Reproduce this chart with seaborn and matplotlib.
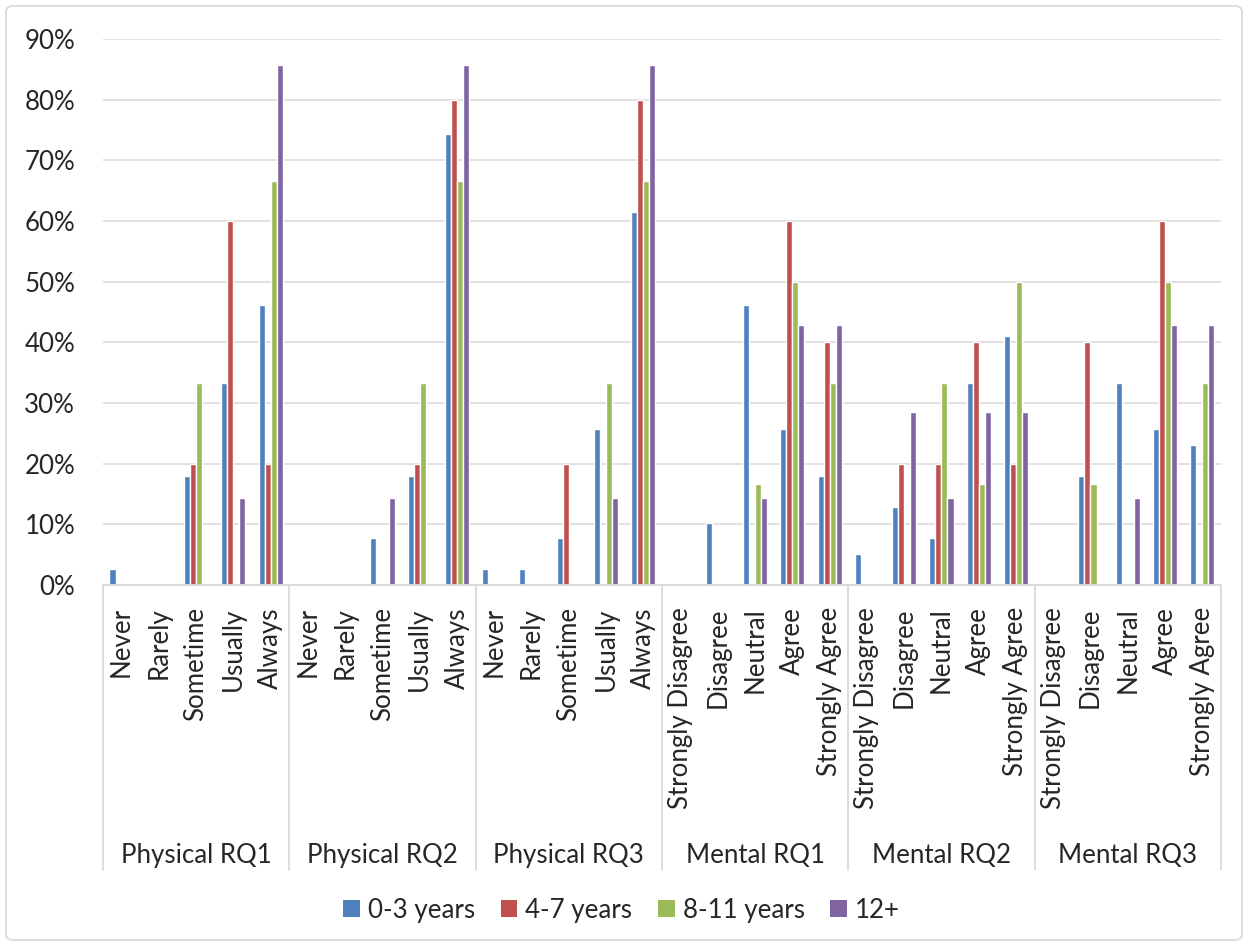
import matplotlib
matplotlib.use("Agg")
import matplotlib.pyplot as plt
import pandas as pd
import seaborn as sns
from matplotlib.patches import FancyBboxPatch, Patch
from matplotlib.ticker import MultipleLocator, PercentFormatter

# ── data (percent of respondents) ─────────────────────────
GROUPS = ["Physical RQ1", "Physical RQ2", "Physical RQ3",
          "Mental RQ1", "Mental RQ2", "Mental RQ3"]
FREQ = ["Never", "Rarely", "Sometime", "Usually", "Always"]
AGREE = ["Strongly Disagree", "Disagree", "Neutral", "Agree", "Strongly Agree"]
SUBCATS = FREQ * 3 + AGREE * 3

SERIES = ["0-3 years", "4-7 years", "8-11 years", "12+"]
COLORS = ["#4F81BD", "#C0504D", "#9BBB59", "#8064A2"]

YEARS_0_3 = [2.56, 0, 17.95, 33.33, 46.15,
             0, 0, 7.69, 17.95, 74.36,
             2.56, 2.56, 7.69, 25.64, 61.54,
             0, 10.26, 46.15, 25.64, 17.95,
             5.13, 12.82, 7.69, 33.33, 41.03,
             0, 17.95, 33.33, 25.64, 23.08]
YEARS_4_7 = [0, 0, 20, 60, 20,
             0, 0, 0, 20, 80,
             0, 0, 20, 0, 80,
             0, 0, 0, 60, 40,
             0, 20, 20, 40, 20,
             0, 40, 0, 60, 0]
YEARS_8_11 = [0, 0, 33.33, 0, 66.67,
              0, 0, 0, 33.33, 66.67,
              0, 0, 0, 33.33, 66.67,
              0, 0, 16.67, 50, 33.33,
              0, 0, 33.33, 16.67, 50,
              0, 16.67, 0, 50, 33.33]
YEARS_12_PLUS = [0, 0, 0, 14.29, 85.71,
                 0, 0, 14.29, 0, 85.71,
                 0, 0, 0, 14.29, 85.71,
                 0, 0, 14.29, 42.86, 42.86,
                 0, 28.57, 14.29, 28.57, 28.57,
                 0, 0, 14.29, 42.86, 42.86]


def build_frame() -> pd.DataFrame:
    rows = []
    for name, values in zip(SERIES, [YEARS_0_3, YEARS_4_7, YEARS_8_11, YEARS_12_PLUS]):
        for slot, v in enumerate(values):
            rows.append({"slot": slot, "series": name, "pct": v})
    return pd.DataFrame(rows)


def main():
    df = build_frame()

    sns.set_theme(style="white")
    plt.rcParams["font.family"] = ["Lato", "DejaVu Sans"]
    fs = 18.6
    grid_c = "#D9D9D9"

    fig = plt.figure(figsize=(12.48, 9.46), dpi=100)
    ax = fig.add_axes([0.0825, 0.3816, 0.8958, 0.5772])

    sns.barplot(data=df, x="slot", y="pct", hue="series", hue_order=SERIES,
                palette=COLORS, width=0.65, ax=ax, saturation=1, legend=False)

    ax.set_ylim(0, 90)
    ax.set_xlim(-0.5, len(SUBCATS) - 0.5)
    ax.yaxis.set_major_locator(MultipleLocator(10))
    ax.yaxis.set_major_formatter(PercentFormatter(xmax=100, decimals=0))
    ax.grid(axis="y", color=grid_c, linewidth=1.1)
    ax.set_axisbelow(True)
    for side in ["left", "right", "top"]:
        ax.spines[side].set_visible(False)
    ax.spines["bottom"].set_color(grid_c)
    ax.spines["bottom"].set_linewidth(1.3)

    ax.set_xticks(range(len(SUBCATS)))
    ax.set_xticklabels(SUBCATS, rotation=90, fontsize=fs)
    ax.tick_params(axis="x", length=0, pad=16)
    ax.tick_params(axis="y", length=0, pad=20, labelsize=fs)
    ax.set_xlabel("")
    ax.set_ylabel("")

    # group separators and group labels
    trans = ax.get_xaxis_transform()
    sep_bottom = -(870 - 585) / 546
    for i in range(len(GROUPS) + 1):
        ax.plot([i * 5 - 0.5] * 2, [0, sep_bottom], transform=trans,
                color=grid_c, linewidth=1.3, clip_on=False)
    for i, g in enumerate(GROUPS):
        ax.text(i * 5 + 2, -(855 - 585) / 546, g, transform=trans,
                ha="center", va="center", fontsize=fs)

    # legend
    handles = [Patch(facecolor=c, edgecolor="none") for c in COLORS]
    fig.legend(handles, SERIES, loc="center", bbox_to_anchor=(0.498, 1 - 910 / 946),
               ncol=4, frameon=False, fontsize=fs, handlelength=0.65,
               handleheight=0.65, handletextpad=0.3, columnspacing=1.0)

    # chart border
    border = FancyBboxPatch((6 / 1248, 6 / 946), 1 - 12 / 1248, 1 - 12 / 946,
                            boxstyle="round,pad=0,rounding_size=0.006",
                            transform=fig.transFigure, facecolor="none",
                            edgecolor=grid_c, linewidth=1.3)
    fig.patches.append(border)

    fig.savefig("out.png", dpi=100)


if __name__ == "__main__":
    main()
